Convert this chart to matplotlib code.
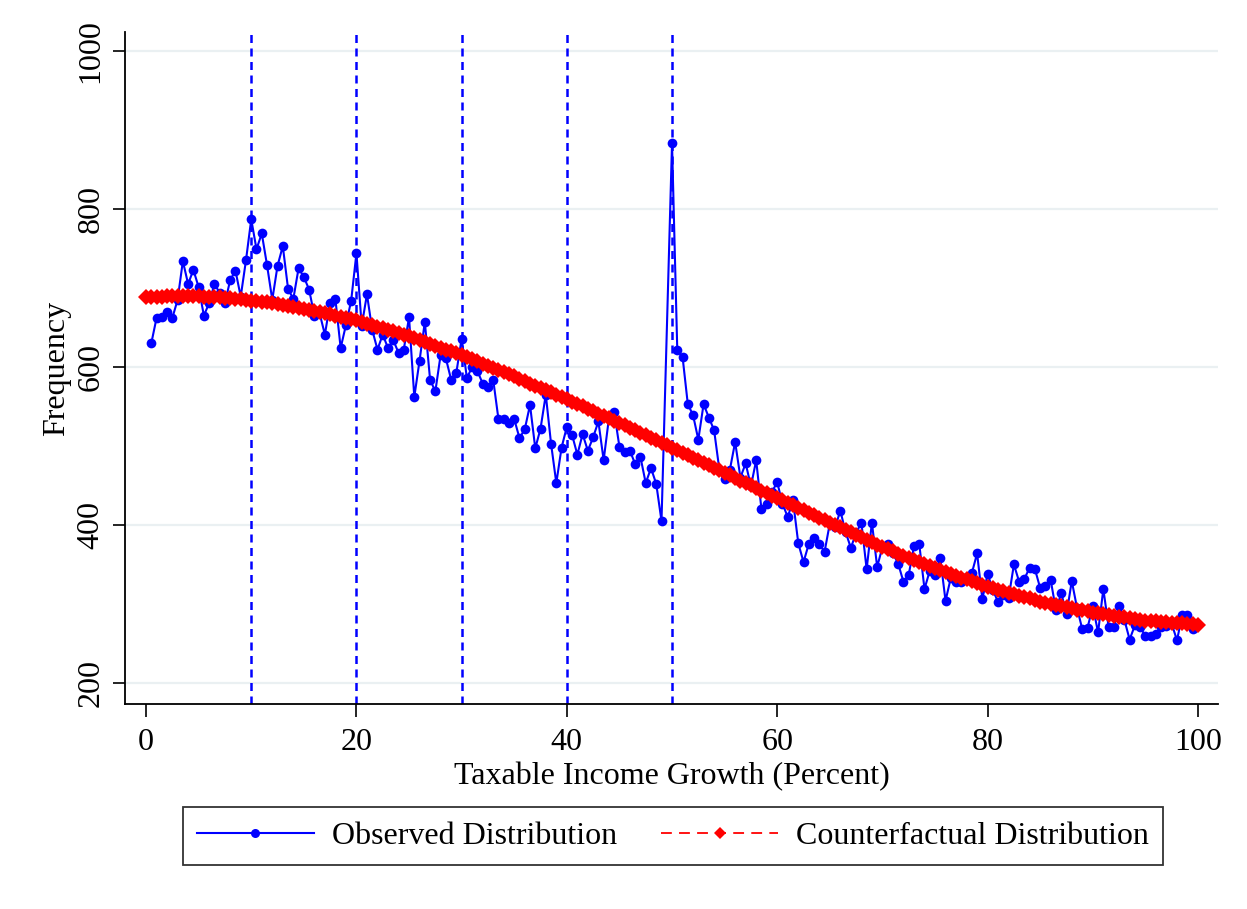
import numpy as np
import matplotlib
matplotlib.use("Agg")
import matplotlib.pyplot as plt

plt.rcParams['font.family'] = ['Liberation Serif', 'DejaVu Serif']

# Observed frequency per 0.5-point bin of taxable income growth (bin 49.5 is absent)
obs_x = [0.5 * k for k in range(1, 200) if k != 99]
obs_y = [
    630, 662, 663, 669, 662, 685, 734, 705, 723, 701,
    665, 681, 705, 694, 681, 710, 722, 689, 735, 787,
    749, 769, 729, 685, 728, 753, 699, 686, 725, 714,
    698, 665, 668, 641, 681, 686, 624, 653, 684, 744,
    652, 692, 647, 622, 641, 624, 634, 618, 622, 663,
    562, 608, 657, 584, 569, 615, 611, 584, 593, 636,
    586, 600, 595, 579, 575, 584, 534, 534, 529, 534,
    510, 521, 552, 497, 522, 565, 503, 453, 498, 524,
    514, 489, 515, 494, 511, 531, 482, 535, 543, 499,
    492, 494, 477, 486, 453, 472, 452, 405, 883,
    621, 613, 553, 539, 508, 553, 536, 520, 470, 458,
    470, 505, 460, 478, 449, 482, 420, 427, 442, 454,
    427, 410, 431, 377, 353, 376, 384, 376, 366, 402,
    397, 418, 391, 371, 390, 403, 344, 403, 347, 372,
    376, 364, 351, 328, 337, 373, 376, 319, 342, 337,
    358, 304, 333, 328, 328, 334, 339, 364, 306, 338,
    318, 302, 312, 308, 350, 328, 332, 346, 344, 320,
    323, 330, 292, 314, 287, 329, 295, 268, 270, 297,
    264, 319, 271, 271, 298, 280, 255, 273, 271, 259,
    260, 262, 271, 272, 275, 254, 286, 286, 268,
]

# Smooth counterfactual frequency, evaluated every 0.5 points from 0 to 100
cf_x = [0.5 * k for k in range(0, 201)]
cf_y = [
    688, 688.5, 689, 689, 689.5, 690, 690, 690, 690, 690,
    689.5, 689, 689, 688.5, 688, 687.5, 687, 686, 685.5, 685, 684,
    683, 682.5, 682, 681, 680, 679, 677.5, 676, 675, 673.5,
    672, 670.5, 669, 668, 666.5, 665, 663.5, 662, 660.5, 659,
    657, 655, 653, 651, 649, 647, 645, 643, 641, 639,
    636.5, 634, 632, 629.5, 627, 624.5, 622, 620, 617.5, 615,
    612, 609.5, 607, 604, 601.5, 599, 596, 593.5, 591, 588,
    585, 582, 579, 576.5, 573.5, 570.5, 568, 565, 562, 559,
    556, 553, 550, 547, 544, 541, 538, 535, 532, 529,
    526, 523, 520, 516.5, 513.5, 510.5, 507, 504, 501, 498,
    495, 491.5, 488, 485, 482, 479, 475.5, 472.5, 469, 466,
    463, 459.5, 456, 453, 450, 447, 443.5, 440.5, 437, 434,
    431, 428, 425, 421.5, 418.5, 415.5, 412, 409, 406, 403,
    400, 397, 394, 390.5, 387.5, 384.5, 381, 378, 375, 372,
    369, 366.5, 363.5, 361, 358.5, 356, 353, 350.5, 347.5, 345,
    342.5, 340.5, 338, 336, 333.5, 331, 329, 326.5, 324, 322,
    320, 318, 316, 314.5, 312.5, 310.5, 309, 307, 305, 303,
    301.5, 300, 299, 297.5, 296, 294.5, 293, 292, 290.5, 289,
    288, 287, 286, 285, 284, 283, 282, 281, 280, 279,
    278.5, 278, 277.5, 277, 276.5, 276, 275.5, 275, 274.5, 274,
]

notch_x = [10, 20, 30, 40, 50]
x_ticks = [0, 20, 40, 60, 80, 100]
y_ticks = [200, 400, 600, 800, 1000]

fig = plt.figure(figsize=(12.47, 9.09), dpi=100)
ax = fig.add_axes([125 / 1247, 1 - 704 / 909, (1218 - 125) / 1247, (704 - 32) / 909])

ax.set_xlim(-2.0, 101.9)
ax.set_ylim(173.4, 1024)

for v in y_ticks:
    ax.axhline(v, color='#EAF0F2', lw=1.6, zorder=0)
for v in notch_x:
    ax.axvline(v, color='#0000FF', lw=1.8, ls=(0, (3.2, 2.2)), zorder=1)

ax.plot(obs_x, obs_y, color='#0000FF', lw=1.5, marker='o', ms=7,
        markeredgewidth=0, zorder=3, label='Observed Distribution')
ax.plot(cf_x, cf_y, color='#FF0000', lw=1.3, ls=(0, (6, 4)), marker='D', ms=8,
        markeredgewidth=0, zorder=4, label='Counterfactual Distribution')

ax.spines['top'].set_visible(False)
ax.spines['right'].set_visible(False)
ax.spines['left'].set_linewidth(1.3)
ax.spines['bottom'].set_linewidth(1.3)

ax.set_xticks(x_ticks)
ax.set_yticks(y_ticks)
ax.tick_params(axis='both', direction='out', length=9, width=1.2, labelsize=23)
ax.tick_params(axis='x', pad=8)
ax.tick_params(axis='y', labelrotation=90, pad=5)
for lab in ax.get_yticklabels():
    lab.set_va('center')

ax.set_xlabel('Taxable Income Growth (Percent)', fontsize=23, labelpad=4)
ax.set_ylabel('Frequency', fontsize=23, labelpad=4)

leg = fig.legend(loc='center', bbox_to_anchor=(673 / 1247, 1 - 836 / 909), ncol=2,
                 fontsize=23, frameon=True, fancybox=False, edgecolor='black',
                 handlelength=3.65, numpoints=1, columnspacing=1.4,
                 borderpad=0.45, handletextpad=0.56, borderaxespad=0)
leg.get_frame().set_linewidth(1.3)
for h in leg.legend_handles:
    h.set_markersize(6.5)

fig.savefig('out.png', dpi=100, facecolor='white')
